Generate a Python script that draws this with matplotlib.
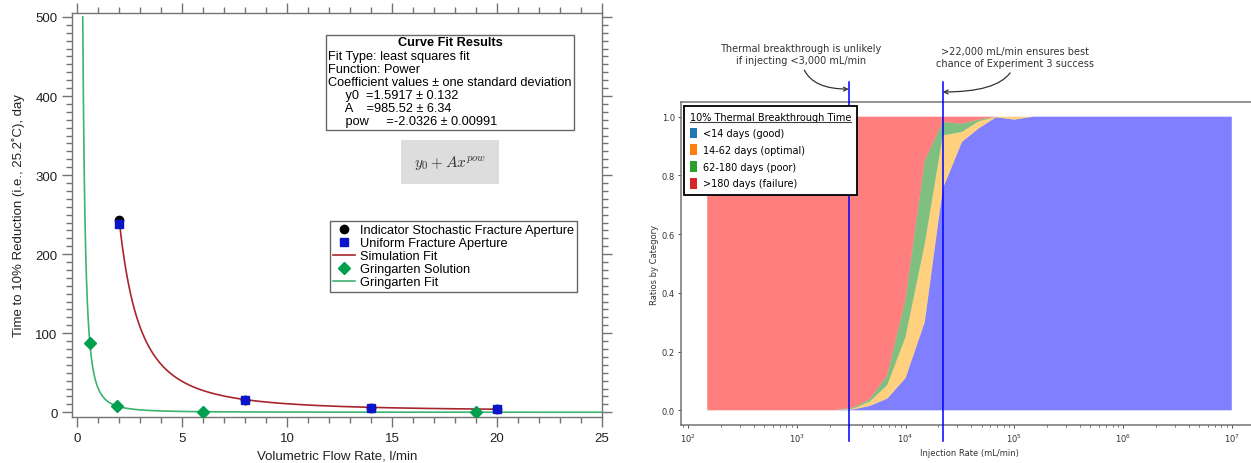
import numpy as np
import matplotlib
matplotlib.use("Agg")
import matplotlib.pyplot as plt
from matplotlib.lines import Line2D
from matplotlib.patches import Patch, Rectangle
from matplotlib.ticker import MultipleLocator

W, H = 1251, 464

# --- left panel: time to 10% reduction vs volumetric flow rate ---
flow_sim = [2, 8, 14, 20]
days_indicator = [243, 16, 6, 4]
days_uniform = [238, 15, 5, 3.5]
flow_gringarten = [0.6, 1.9, 6, 19]
days_gringarten = [88, 8, 0.5, 0]

# power law fits: y0 + A * x**pow
SIM_Y0, SIM_A, SIM_POW = 1.5917, 985.52, -2.0326
SIM_Y0_ERR, SIM_A_ERR, SIM_POW_ERR = 0.132, 6.34, 0.00991
GRING_Y0, GRING_A, GRING_POW = 0.0, 30.0, -2.1

# --- right panel: stacked category ratios vs injection rate ---
rate = [150, 220, 330, 470, 680, 1000, 1500, 2200, 3300, 4700, 6800,
        1e4, 1.5e4, 2.2e4, 3.3e4, 4.7e4, 6.8e4, 1e5, 1.5e5, 2.2e5, 3.3e5,
        4.7e5, 6.8e5, 1e6, 1.5e6, 2.2e6, 3.3e6, 4.7e6, 6.8e6, 1e7]
ratio_good = [0] * 8 + [0.003, 0.015, 0.04, 0.11, 0.30, 0.755, 0.914, 0.96,
                        0.998, 0.99] + [1.0] * 12
ratio_optimal = [0] * 8 + [0.003, 0.015, 0.046, 0.14, 0.265, 0.181, 0.034,
                           0.024, 0.002, 0.01] + [0] * 12
ratio_poor = [0] * 8 + [0.004, 0.008, 0.034, 0.13, 0.285, 0.046, 0.028,
                        0.006, 0, 0] + [0] * 12
ratio_failure = [1.0] * 8 + [0.99, 0.962, 0.88, 0.62, 0.15, 0.018, 0.024,
                             0.01, 0, 0] + [0] * 12
category_labels = ['<14 days (good)', '14-62 days (optimal)',
                   '62-180 days (poor)', '>180 days (failure)']
fill_colors = ['blue', 'orange', 'green', 'red']
legend_colors = ['tab:blue', 'tab:orange', 'tab:green', 'tab:red']
low_rate, high_rate = 3000, 22000


def power_law(x, y0, a, p):
    return y0 + a * np.power(x, p)


fig = plt.figure(figsize=(W / 100, H / 100), dpi=100)

# ================= left panel =================
lfont = ['Liberation Sans', 'DejaVu Sans']
ax1 = fig.add_axes([72 / W, 1 - 418 / H, 530 / W, 404 / H])

x_sim = np.linspace(flow_sim[0], flow_sim[-1], 400)
sim_line, = ax1.plot(x_sim, power_law(x_sim, SIM_Y0, SIM_A, SIM_POW),
                     color='#a8262b', lw=1.2, label='Simulation Fit', zorder=2)
x_start = ((500 - GRING_Y0) / GRING_A) ** (1 / GRING_POW)
x_gr = np.geomspace(x_start, 25, 600)
gr_line, = ax1.plot(x_gr, power_law(x_gr, GRING_Y0, GRING_A, GRING_POW),
                    color='#3cb371', lw=1.2, label='Gringarten Fit', zorder=2)
ind_pts, = ax1.plot(flow_sim, days_indicator, 'o', color='black', ms=6,
                    label='Indicator Stochastic Fracture Aperture', zorder=3)
uni_pts, = ax1.plot(flow_sim, days_uniform, 's', color='#0a14c8', ms=6,
                    label='Uniform Fracture Aperture', zorder=4)
gr_pts, = ax1.plot(flow_gringarten, days_gringarten, 'D', color='#00a050',
                   ms=6.5, label='Gringarten Solution', zorder=4)

ax1.set_xlim(-0.25, 25)
ax1.set_ylim(-6, 505)
ax1.set_xticks([0, 5, 10, 15, 20, 25])
ax1.xaxis.set_minor_locator(MultipleLocator(1))
ax1.set_yticks([0, 100, 200, 300, 400, 500])
ax1.yaxis.set_minor_locator(MultipleLocator(10))
ax1.tick_params(which='both', direction='out', top=True, right=True,
                color='0.45', width=1)
ax1.tick_params(which='major', length=7, labelsize=9.5, labelcolor='#222',
                pad=3.5)
ax1.tick_params(which='minor', length=4)
for lab in ax1.get_xticklabels() + ax1.get_yticklabels():
    lab.set_family(lfont)
for sp in ax1.spines.values():
    sp.set_color('0.45')
    sp.set_linewidth(1)
ax1.set_xlabel('Volumetric Flow Rate, l/min', family=lfont, fontsize=9.5,
               color='#222', labelpad=4)
ax1.set_ylabel('Time to 10% Reduction (i.e., 25.2˚C), day', family=lfont,
               fontsize=9.5, color='#222', labelpad=7)

# curve fit results box
ax1.add_patch(Rectangle((0.479, 0.710), 0.468, 0.2355, transform=ax1.transAxes,
                        facecolor='white', edgecolor='0.4', lw=1, zorder=5))
dy = 13.1 / 404
top = (418 - 43.5) / 404
ax1.text(0.713, top, 'Curve Fit Results', transform=ax1.transAxes,
         ha='center', va='center', fontsize=9.2, fontweight='bold',
         family=lfont, zorder=6)
fit_lines = [
    'Fit Type: least squares fit',
    'Function: Power',
    'Coefficient values ± one standard deviation',
    f'     y0  ={SIM_Y0} ± {SIM_Y0_ERR}',
    f'     A    ={SIM_A} ± {SIM_A_ERR}',
    f'     pow     ={SIM_POW} ± {SIM_POW_ERR}',
]
for i, line in enumerate(fit_lines):
    ax1.text(0.483, top - (i + 1) * dy, line, transform=ax1.transAxes,
             ha='left', va='center', fontsize=9.2, family=lfont, zorder=6)

ax1.text(450 / W, 1 - 163 / H, r'$y_0 + Ax^{pow}$', transform=fig.transFigure,
         ha='center', va='center', fontsize=11, math_fontfamily='cm',
         color='#333',
         bbox=dict(boxstyle='square,pad=0.85', facecolor='#dddddd',
                   edgecolor='none'))

leg1 = ax1.legend(handles=[ind_pts, uni_pts, sim_line, gr_pts, gr_line],
                  loc='upper left', bbox_to_anchor=(0.487, 0.485),
                  borderaxespad=0, fancybox=False, framealpha=1,
                  edgecolor='0.4', numpoints=1, handlelength=1.7,
                  handletextpad=0.4, labelspacing=0.08, borderpad=0.25,
                  prop={'family': lfont, 'size': 9.2})
leg1.get_frame().set_linewidth(1)

# ================= right panel =================
ax2 = fig.add_axes([681 / W, 1 - 426 / H, 577 / W, 323 / H])
ax2.stackplot(rate, ratio_good, ratio_optimal, ratio_poor, ratio_failure,
              colors=fill_colors, alpha=0.5)
ax2.set_xscale('log')
ax2.set_xlim(10 ** 1.935, 10 ** 7.241)
ax2.set_ylim(-0.05, 1.05)
ax2.set_yticks([0, 0.2, 0.4, 0.6, 0.8, 1.0])
ax2.tick_params(which='both', direction='out', color='0.3', labelsize=6,
                labelcolor='#333')
ax2.tick_params(which='major', length=2.5, width=0.7, pad=2)
ax2.tick_params(which='minor', length=1.5, width=0.6)
for sp in ax2.spines.values():
    sp.set_color('0.45')
    sp.set_linewidth(1.1)
ax2.set_xlabel('Injection Rate (mL/min)', fontsize=6, color='#333',
               labelpad=3)
ax2.set_ylabel('Ratios by Category', fontsize=6, color='#333', labelpad=2)

for r in (low_rate, high_rate):
    ax2.axvline(r, ymin=-0.05, ymax=1.062, clip_on=False, color='blue',
                lw=1.1, zorder=5)

arrow_kw = dict(arrowstyle='->', color='0.2', lw=0.9, shrinkA=2, shrinkB=0)
ax2.annotate('Thermal breakthrough is unlikely\nif injecting <3,000 mL/min',
             xy=(low_rate, 1.04), xycoords=('data', 'axes fraction'),
             xytext=(801 / W, 1 - 55 / H), textcoords='figure fraction',
             ha='center', va='center', fontsize=7, color='0.2',
             arrowprops=dict(connectionstyle='angle3,angleA=-90,angleB=0',
                             **arrow_kw))
ax2.annotate('>22,000 mL/min ensures best\nchance of Experiment 3 success',
             xy=(high_rate, 1.031), xycoords=('data', 'axes fraction'),
             xytext=(1015 / W, 1 - 58 / H), textcoords='figure fraction',
             ha='center', va='center', fontsize=7, color='0.2',
             arrowprops=dict(connectionstyle='angle3,angleA=-90,angleB=0',
                             **arrow_kw))

handles = [Patch(facecolor=c, edgecolor='none', label=l)
           for c, l in zip(legend_colors, category_labels)]
leg2 = ax2.legend(handles=handles, title='10% Thermal Breakthrough Time',
                  loc='upper left', bbox_to_anchor=(0.005, 0.988),
                  borderaxespad=0, fancybox=False, framealpha=1,
                  edgecolor='black', fontsize=7, title_fontsize=7,
                  handlelength=0.8, handleheight=1.35, handletextpad=0.6,
                  labelspacing=0.6, borderpad=0.6, alignment='left')
leg2.get_frame().set_linewidth(1.3)
leg2.set_zorder(10)

# underline the legend title
fig.canvas.draw()
bb = leg2.get_title().get_window_extent(fig.canvas.get_renderer())
fig.add_artist(Line2D([bb.x0 / W, bb.x1 / W], [(bb.y0 - 0.5) / H] * 2,
                      transform=fig.transFigure, color='0.25', lw=0.8))

fig.savefig('out.png', dpi=100)
